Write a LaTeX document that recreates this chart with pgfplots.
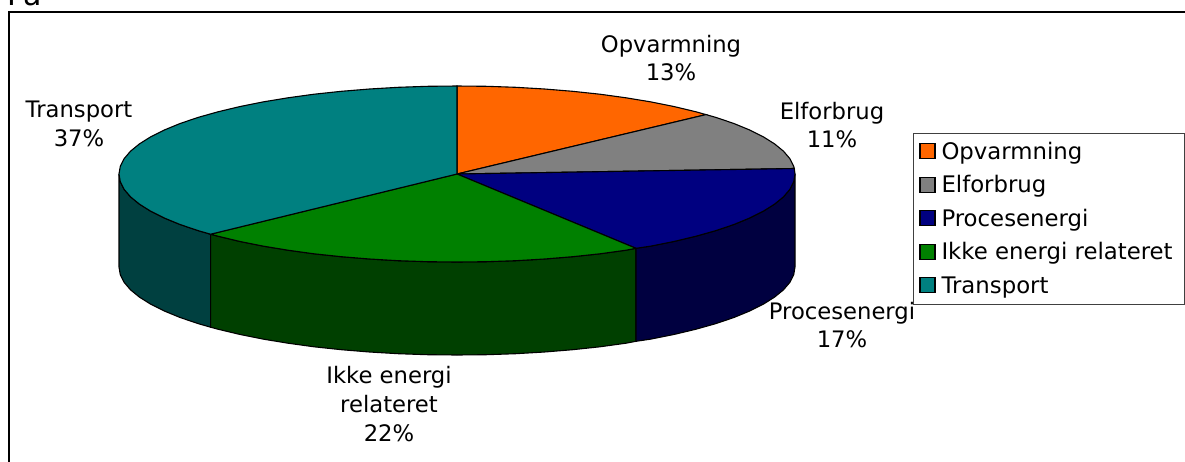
\documentclass[border=0pt]{standalone}
\usepackage{pgfplots}
\usepackage{fontspec}
\setmainfont{DejaVu Sans}
\pgfplotsset{compat=1.18}
\definecolor{cOp}{HTML}{FF6600}
\definecolor{cEl}{HTML}{808080}
\definecolor{cPr}{HTML}{000080}
\definecolor{cIk}{HTML}{008000}
\definecolor{cTr}{HTML}{008080}
\definecolor{dPr}{HTML}{000040}
\definecolor{dIk}{HTML}{004000}
\definecolor{dTr}{HTML}{004040}
\tikzset{lab/.style={align=center, font=\fontsize{22.7}{28.8}\selectfont, inner sep=0pt, anchor=center}}
\begin{document}
\begin{tikzpicture}[x=1pt,y=1pt]
\useasboundingbox (0,0) rectangle (1185,461);
\clip (0,0) rectangle (1185,461);
\begin{axis}[
  at={(0,0)}, anchor=south west,
  scale only axis, width=1185pt, height=461pt,
  xmin=0, xmax=1185, ymin=0, ymax=461, y dir=reverse,
  hide axis, clip=false,
  every axis plot/.append style={mark=none, line width=1.1pt, draw=black},
  legend image code/.code={\draw[#1,line width=1.1pt] (3pt,0.5pt) rectangle (18pt,15.5pt);},
  legend cell align=left,
  legend style={
    at={(axis cs:913,133)}, anchor=north west,
    draw=black!75, line width=0.8pt, fill=white,
    font=\fontsize{22.8}{26}\selectfont,
    inner xsep=6pt, inner ysep=2pt, row sep=0pt,
    nodes={inner xsep=6pt, inner ysep=0pt, text height=24pt, text depth=9.4pt, anchor=base west}
  },
]
% frame
\addplot[forget plot, line width=2pt] coordinates {(1190,11.5) (8.5,11.5) (8.5,470)};
% side faces
\addplot[forget plot, fill=dTr] coordinates {(119,174) (120.3,181.7) (124.1,189.3) (130.5,196.8) (139.4,204.1) (150.7,211.2) (164.3,218) (180.1,224.5) (198.1,230.6) (210.6,234.2) (210.6,327.2) (198.1,323.6) (180.1,317.5) (164.3,311) (150.7,304.2) (139.4,297.1) (130.5,289.8) (124.1,282.3) (120.3,274.7) (119,267)} --cycle;
\addplot[forget plot, fill=dIk] coordinates {(636,248.3) (626,250.2) (599.9,253.8) (572.6,256.7) (544.5,259) (515.7,260.7) (486.5,261.7) (457,262) (427.5,261.7) (398.3,260.7) (369.5,259) (341.4,256.7) (314.1,253.8) (288,250.2) (263.1,246.1) (239.7,241.4) (218,236.2) (210.6,234.2) (210.6,327.2) (218,329.2) (239.7,334.4) (263.1,339.1) (288,343.2) (314.1,346.8) (341.4,349.7) (369.5,352) (398.3,353.7) (427.5,354.7) (457,355) (486.5,354.7) (515.7,353.7) (544.5,352) (572.6,349.7) (599.9,346.8) (626,343.2) (636,341.3)} --cycle;
\addplot[forget plot, fill=dPr] coordinates {(795,174) (793.7,181.7) (789.9,189.3) (783.5,196.8) (774.6,204.1) (763.3,211.2) (749.7,218) (733.9,224.5) (715.9,230.6) (696,236.2) (674.3,241.4) (650.9,246.1) (636,248.3) (636,341.3) (650.9,339.1) (674.3,334.4) (696,329.2) (715.9,323.6) (733.9,317.5) (749.7,311) (763.3,304.2) (774.6,297.1) (783.5,289.8) (789.9,282.3) (793.7,274.7) (795,267)} --cycle;
% top faces
\addplot[fill=cOp] coordinates {(457,174) (457,86) (486.5,86.3) (515.7,87.3) (544.5,89) (572.6,91.3) (599.9,94.2) (626,97.8) (650.9,101.9) (674.3,106.6) (696,111.8) (706,114.6)} --cycle;
\addlegendentry{Opvarmning}
\addplot[fill=cEl] coordinates {(457,174) (706,114.6) (715.9,117.4) (733.9,123.5) (749.7,130) (763.3,136.8) (774.6,143.9) (783.5,151.2) (789.9,158.7) (793.7,166.3) (794.3,168.5)} --cycle;
\addlegendentry{Elforbrug}
\addplot[fill=cPr] coordinates {(457,174) (794.3,168.5) (795,174) (793.7,181.7) (789.9,189.3) (783.5,196.8) (774.6,204.1) (763.3,211.2) (749.7,218) (733.9,224.5) (715.9,230.6) (696,236.2) (674.3,241.4) (650.9,246.1) (636,248.3)} --cycle;
\addlegendentry{Procesenergi}
\addplot[fill=cIk] coordinates {(457,174) (636,248.3) (626,250.2) (599.9,253.8) (572.6,256.7) (544.5,259) (515.7,260.7) (486.5,261.7) (457,262) (427.5,261.7) (398.3,260.7) (369.5,259) (341.4,256.7) (314.1,253.8) (288,250.2) (263.1,246.1) (239.7,241.4) (218,236.2) (210.6,234.2)} --cycle;
\addlegendentry{Ikke energi relateret}
\addplot[fill=cTr] coordinates {(457,174) (210.6,234.2) (198.1,230.6) (180.1,224.5) (164.3,218) (150.7,211.2) (139.4,204.1) (130.5,196.8) (124.1,189.3) (120.3,181.7) (119,174) (120.3,166.3) (124.1,158.7) (130.5,151.2) (139.4,143.9) (150.7,136.8) (164.3,130) (180.1,123.5) (198.1,117.4) (218,111.8) (239.7,106.6) (263.1,101.9) (288,97.8) (314.1,94.2) (341.4,91.3) (369.5,89) (398.3,87.3) (427.5,86.3) (457,86)} --cycle;
\addlegendentry{Transport}
% labels
\node[lab] at (axis cs:671,58) {Opvarmning\\13\%};
\node[lab] at (axis cs:832,125) {Elforbrug\\11\%};
\node[lab] at (axis cs:79,124) {Transport\\37\%};
\node[lab] at (axis cs:842,325) {Procesenergi\\17\%};
\node[lab] at (axis cs:389,404) {Ikke energi\\relateret\\22\%};
\node[anchor=base west, inner sep=0pt, font=\fontsize{30}{32}\selectfont] at (axis cs:7,5) {Pa};
\end{axis}
\end{tikzpicture}
\end{document}
